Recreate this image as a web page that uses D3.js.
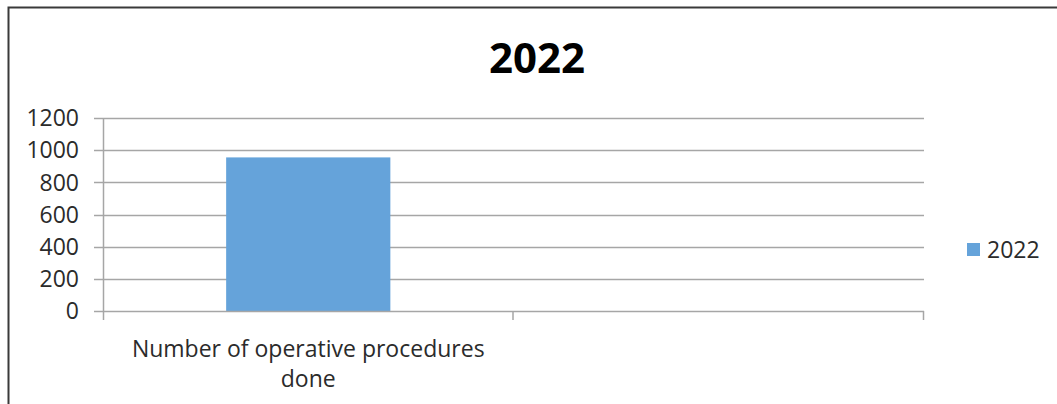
<!DOCTYPE html>
<html><head><meta charset="utf-8">
<script src="https://cdn.jsdelivr.net/npm/d3@7"></script>
<style>body{margin:0;background:#fff}svg{display:block}</style>
</head><body>
<svg id="c" width="1057" height="404"></svg>
<script>
const title = "2022";
const categories = ["Number of operative procedures done", ""];
const seriesName = "2022";
const values = [955, null];
const yTicks = [0, 200, 400, 600, 800, 1000, 1200];

const svg = d3.select("#c");
const font = "'Open Sans', sans-serif";
const textColor = "#2b2b2b";
const gridColor = "#a6a6a6";
const barColor = "#65a3da";
const fs = 23;

// outer border (top and left)
svg.append("path").attr("d", "M8.5,404 V7.5 H1057")
  .attr("fill", "none").attr("stroke", "#3a3a3a").attr("stroke-width", 2);

const x0 = 103, x1 = 924, yTop = 118, yBot = 311;
const x = d3.scaleBand().domain(d3.range(categories.length)).range([x0, x1]).paddingInner(0).paddingOuter(0);
const y = d3.scaleLinear().domain([0, 1200]).range([yBot, yTop]);

// gridlines
svg.append("g").selectAll("line").data(yTicks.filter(d => d > 0)).join("line")
  .attr("x1", x0 - 9).attr("x2", x1).attr("y1", d => Math.round(y(d)) + 0.5).attr("y2", d => Math.round(y(d)) + 0.5)
  .attr("stroke", gridColor).attr("stroke-width", 1.5);

// bars
const bw = x.bandwidth() * 0.4;
svg.append("g").selectAll("rect").data(values.map((v, i) => ({v, i})).filter(d => d.v != null)).join("rect")
  .attr("x", d => x(d.i) + (x.bandwidth() - bw) / 2)
  .attr("width", bw)
  .attr("y", d => y(d.v))
  .attr("height", d => y(0) - y(d.v))
  .attr("fill", barColor);

// y axis line
svg.append("line").attr("x1", x0 + 0.5).attr("x2", x0 + 0.5).attr("y1", yTop).attr("y2", yBot + 9)
  .attr("stroke", gridColor).attr("stroke-width", 1.5);
// x axis line
svg.append("line").attr("x1", x0 - 9).attr("x2", x1).attr("y1", yBot + 0.5).attr("y2", yBot + 0.5)
  .attr("stroke", gridColor).attr("stroke-width", 1.5);
// x ticks at category boundaries
svg.append("g").selectAll("line").data(categories.map((c, i) => i + 1)).join("line")
  .attr("x1", i => (i < categories.length ? x(i) : x1) - 0.5)
  .attr("x2", i => (i < categories.length ? x(i) : x1) - 0.5)
  .attr("y1", yBot).attr("y2", yBot + 9)
  .attr("stroke", gridColor).attr("stroke-width", 1.5);

// y tick labels
svg.append("g").selectAll("text").data(yTicks).join("text")
  .attr("x", 79).attr("y", d => y(d)).attr("dy", "0.36em")
  .attr("text-anchor", "end").attr("font-family", font).attr("font-size", fs)
  .attr("fill", textColor).text(d => d);

// category labels (wrapped)
categories.forEach((c, i) => {
  if (!c) return;
  const cx = x(i) + x.bandwidth() / 2;
  const words = c.split(" ");
  const first = words.slice(0, 4).join(" "), second = words.slice(4).join(" ");
  [first, second].forEach((t, k) => {
    svg.append("text").attr("x", cx).attr("y", 357 + k * 30)
      .attr("text-anchor", "middle").attr("font-family", font).attr("font-size", fs)
      .attr("fill", textColor).text(t);
  });
});

// title
svg.append("text").attr("x", 537).attr("y", 73).attr("text-anchor", "middle")
  .attr("font-family", font).attr("font-weight", "bold").attr("font-size", 42)
  .attr("fill", "#000").text(title);

// legend
svg.append("rect").attr("x", 967).attr("y", 243).attr("width", 13).attr("height", 13).attr("fill", barColor);
svg.append("text").attr("x", 987).attr("y", 250).attr("dy", "0.36em")
  .attr("font-family", font).attr("font-size", fs).attr("fill", textColor).text(seriesName);
</script>
</body></html>
